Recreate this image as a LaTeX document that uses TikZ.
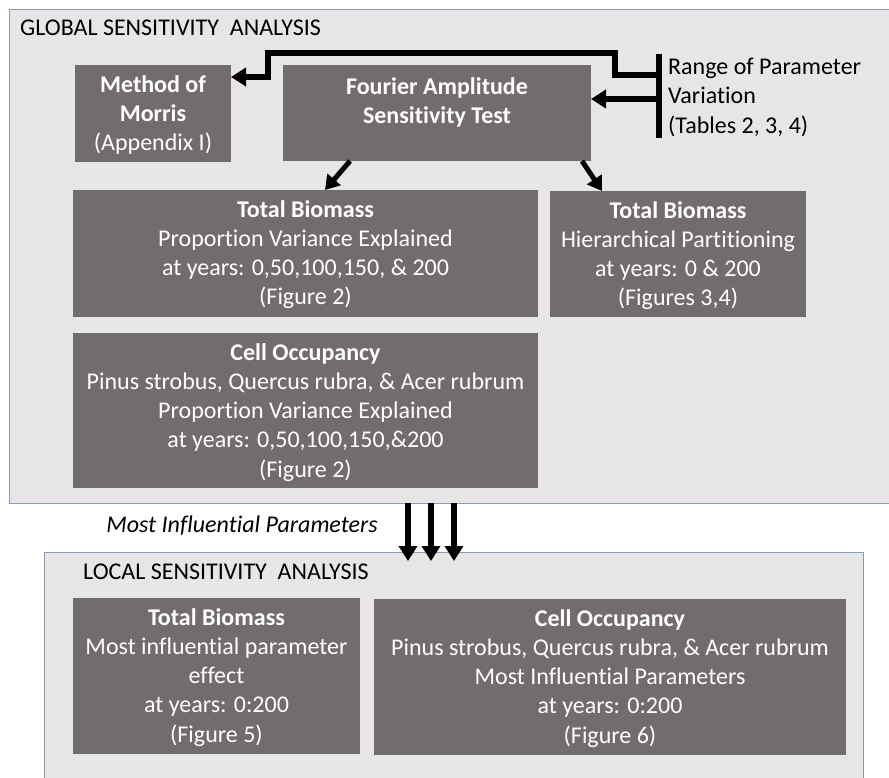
\documentclass[tikz,border=0pt]{standalone}
\usepackage{fontspec}
\setmainfont{Carlito}[Ligatures={NoCommon}]
\usetikzlibrary{arrows.meta}
\definecolor{boxgray}{RGB}{114,109,108}
\definecolor{panelfill}{RGB}{230,230,230}
\definecolor{panelline}{RGB}{140,155,178}
\tikzset{
  panel/.style={draw=panelline, fill=panelfill, line width=0.9pt, anchor=north west, inner sep=0pt, outer sep=0pt},
  gbox/.style={fill=boxgray, draw=none, anchor=north west, inner sep=0pt, outer sep=0pt},
  btxt/.style={anchor=north, align=center, text=white, inner sep=0pt, font=\fontsize{24}{29.3}\selectfont},
  plain/.style={inner sep=0pt, font=\fontsize{24}{29.3}\selectfont},
  fatline/.style={line width=5.5pt},
  fatarrow/.style={line width=5.5pt, -{Triangle[width=18pt,length=15pt]}},
  diagarrow/.style={line width=5pt, -{Triangle[width=17pt,length=14pt]}}
}
\begin{document}
\begin{tikzpicture}[x=1pt,y=-1pt]
\useasboundingbox (0,0) rectangle (889,778);
\clip (0,0) rectangle (889,778);
\fill[white] (0,0) rectangle (889,778);
% panels
\node[panel, minimum width=891pt, minimum height=494pt] (gpanel) at (9,9) {};
\node[panel, minimum width=819pt, minimum height=260pt] (lpanel) at (44,552) {};
\node[plain, anchor=west] (ghead) at (20,28) {GLOBAL SENSITIVITY\ \ ANALYSIS};
\node[plain, anchor=west] (lhead) at (83,572) {LOCAL SENSITIVITY\ \ ANALYSIS};
% boxes
\node[gbox, minimum width=156pt, minimum height=97pt] (morris) at (75,65) {};
\node[gbox, minimum width=308pt, minimum height=96pt] (fast) at (283,65) {};
\node[gbox, minimum width=465pt, minimum height=127pt] (tb1) at (73,190) {};
\node[gbox, minimum width=256pt, minimum height=126pt] (tb2) at (550,191) {};
\node[gbox, minimum width=465pt, minimum height=155pt] (co) at (73,333) {};
\node[gbox, minimum width=287pt, minimum height=156pt] (ltb) at (73,598) {};
\node[gbox, minimum width=472pt, minimum height=156pt] (lco) at (374,599) {};
% box texts
\node[btxt] (morris-t) at ([yshift=-10pt]morris.north) {\textbf{Method of}\\\textbf{Morris}\\(Appendix I)};
\node[btxt] (fast-t) at ([yshift=-12pt]fast.north) {\textbf{Fourier Amplitude}\\\textbf{Sensitivity Test}};
\node[btxt] (tb1-t) at ([yshift=-10pt]tb1.north) {\textbf{Total Biomass}\\Proportion Variance Explained\\at years: 0,50,100,150, \& 200\\(Figure 2)};
\node[btxt] (tb2-t) at ([yshift=-10pt]tb2.north) {\textbf{Total Biomass}\\Hierarchical Partitioning\\at years: 0 \& 200\\(Figures 3,4)};
\node[btxt] (co-t) at ([yshift=-10pt]co.north) {\textbf{Cell Occupancy}\\Pinus strobus, Quercus rubra, \& Acer rubrum\\Proportion Variance Explained\\at years: 0,50,100,150,\&200\\(Figure 2)};
\node[btxt] (ltb-t) at ([yshift=-10pt]ltb.north) {\textbf{Total Biomass}\\Most influential parameter\\effect\\at years: 0:200\\(Figure 5)};
\node[btxt] (lco-t) at ([yshift=-10pt]lco.north) {\textbf{Cell Occupancy}\\Pinus strobus, Quercus rubra, \& Acer rubrum\\Most Influential Parameters\\at years: 0:200\\(Figure 6)};
% range of parameter variation
\node[plain, anchor=north west, align=left] (range) at (668,58) {Range of Parameter\\Variation\\(Tables 2, 3, 4)};
\coordinate (barTop) at (659,54);
\coordinate (barBot) at (659,138);
\coordinate (barA) at (659,75);
\coordinate (barB) at (659,99);
\draw[fatline] (barTop) -- (barBot);
\coordinate (mIn) at ([yshift=-12pt]morris.north east);
\draw[fatarrow, line join=miter] (barA) -- (615,75) -- (615,53) -- (268,53) -- (268,77) -- (mIn);
\draw[fatarrow] (barB) -- (fast.east |- barB);
% diagonal arrows
\draw[diagarrow] ([xshift=67pt]fast.south west) -- ([xshift=252pt]tb1.north west);
\draw[diagarrow] ([xshift=299pt]fast.south west) -- ([xshift=52pt]tb2.north west);
% down arrows
\node[plain, font=\fontsize{24}{29.3}\selectfont\itshape] (mip) at (242,526) {Most Influential Parameters};
\draw[fatarrow] ([xshift=399pt]gpanel.south west) -- ([xshift=364pt,yshift=-9pt]lpanel.north west);
\draw[fatarrow] ([xshift=422pt]gpanel.south west) -- ([xshift=387pt,yshift=-9pt]lpanel.north west);
\draw[fatarrow] ([xshift=445pt]gpanel.south west) -- ([xshift=410pt,yshift=-9pt]lpanel.north west);
\end{tikzpicture}
\end{document}
